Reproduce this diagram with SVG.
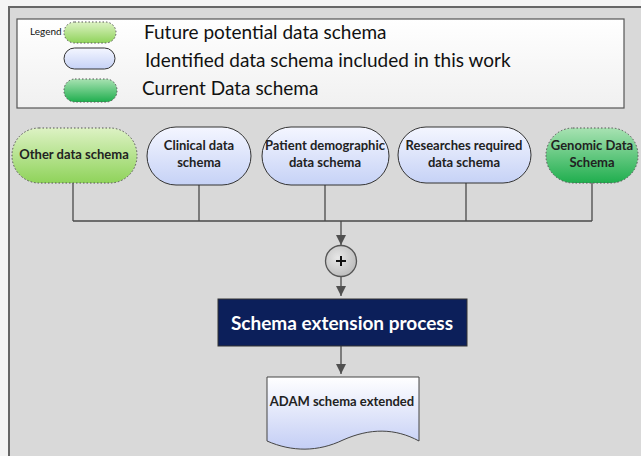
<svg xmlns="http://www.w3.org/2000/svg" width="641" height="456" viewBox="0 0 641 456">
<defs>
<linearGradient id="gLight" x1="0" y1="0" x2="0" y2="1"><stop offset="0" stop-color="#ddf2c4"/><stop offset="1" stop-color="#8fd35a"/></linearGradient>
<linearGradient id="gDark" x1="0" y1="0" x2="0" y2="1"><stop offset="0" stop-color="#a8e2b2"/><stop offset="1" stop-color="#1fae4e"/></linearGradient>
<linearGradient id="gBlue" x1="0" y1="0" x2="0" y2="1"><stop offset="0" stop-color="#f4f6ff"/><stop offset="1" stop-color="#c6d2f6"/></linearGradient>
<linearGradient id="gLeg" x1="0" y1="0" x2="0" y2="1"><stop offset="0" stop-color="#ffffff"/><stop offset="1" stop-color="#f0f0f0"/></linearGradient>
<linearGradient id="gDoc" x1="0" y1="0" x2="0" y2="1"><stop offset="0" stop-color="#ffffff"/><stop offset="1" stop-color="#c4cef5"/></linearGradient>
<radialGradient id="gCirc" cx="0.4" cy="0.4" r="0.7"><stop offset="0" stop-color="#e8e8e8"/><stop offset="1" stop-color="#b8b8b8"/></radialGradient>
<marker id="ah" viewBox="0 0 10 10" refX="10" refY="5" markerWidth="10" markerHeight="10" markerUnits="userSpaceOnUse" orient="auto"><path d="M0,0 L10,5 L0,10 Z" fill="#505050"/></marker>
</defs>
<style>
.t{font-family:Lato,"Open Sans",sans-serif;fill:#111}
.nb{font-family:Lato,"Open Sans",sans-serif;font-weight:bold;font-size:13px;fill:#222;text-anchor:middle}
.line{stroke:#4a4a4a;stroke-width:1.3;fill:none}
.blue{fill:url(#gBlue);stroke:#333;stroke-width:1}
.light{fill:url(#gLight);stroke:#555;stroke-width:1;stroke-dasharray:1.5 2}
.dark{fill:url(#gDark);stroke:#555;stroke-width:1;stroke-dasharray:1.5 2}
</style>
<rect x="0" y="0" width="641" height="456" fill="#f4f4f4"/>
<rect x="9" y="7" width="640" height="460" fill="#d9d9d9" stroke="#666" stroke-width="2"/>
<g id="legend">
<rect x="17" y="19" width="607" height="89" fill="url(#gLeg)" stroke="#555" stroke-width="1.2"/>
<text class="t" x="30" y="35" font-size="10">Legend</text>
<rect x="64" y="22" width="52" height="21" rx="10.5" class="light"/>
<rect x="64" y="48" width="51" height="21" rx="10.5" class="blue"/>
<rect x="64" y="79" width="53" height="23" rx="11" class="dark"/>
<text class="t" x="144" y="39" font-size="19">Future potential data schema</text>
<text class="t" x="145" y="67" font-size="19">Identified data schema included in this work</text>
<text class="t" x="142" y="95" font-size="19">Current Data schema</text>
</g>
<g id="connectors">
<path class="line" d="M73,183 V221 M199,185 V221 M325,185 V221 M466,183 V221 M592,183 V221 M73,221 H592"/>
<path class="line" d="M341,221 V245" marker-end="url(#ah)"/>
<path class="line" d="M341,277 V296" marker-end="url(#ah)"/>
<path class="line" d="M341,346 V374" marker-end="url(#ah)"/>
</g>
<g id="n-other"><rect x="12" y="128" width="125" height="55" rx="27" class="light"/><text class="nb" x="74" y="159">Other data schema</text></g>
<g id="n-clinical"><rect x="147" y="127" width="104" height="58" rx="29" class="blue"/><text class="nb" x="199" y="150">Clinical data</text><text class="nb" x="199" y="167">schema</text></g>
<g id="n-patient"><rect x="262" y="127" width="127" height="58" rx="29" class="blue"/><text class="nb" x="325" y="150">Patient demographic</text><text class="nb" x="325" y="167">data schema</text></g>
<g id="n-research"><rect x="398" y="127" width="133" height="56" rx="28" class="blue"/><text class="nb" x="464" y="150">Researches required</text><text class="nb" x="464" y="167">data schema</text></g>
<g id="n-genomic"><rect x="546" y="128" width="92" height="55" rx="27" class="dark"/><text class="nb" x="592" y="150">Genomic Data</text><text class="nb" x="592" y="167">Schema</text></g>
<g id="n-join"><circle cx="341" cy="261" r="15.5" fill="url(#gCirc)" stroke="#555" stroke-width="1.3"/><path d="M336,261 H346 M341,256 V266" stroke="#111" stroke-width="2"/></g>
<g id="n-process"><rect x="218" y="299" width="249" height="47" fill="#0c1f5a" stroke="#333" stroke-width="1"/><text x="342" y="330" text-anchor="middle" font-family="Lato,'Open Sans',sans-serif" font-weight="bold" font-size="19" fill="#fff">Schema extension process</text></g>
<g id="n-adam"><path d="M267,377 H419 V441 C395,428 370,428 343,440 C318,452 292,452 267,441 Z" fill="url(#gDoc)" stroke="#444" stroke-width="1"/><text class="nb" x="342" y="406" font-size="11.5">ADAM schema extended</text></g>
</svg>
